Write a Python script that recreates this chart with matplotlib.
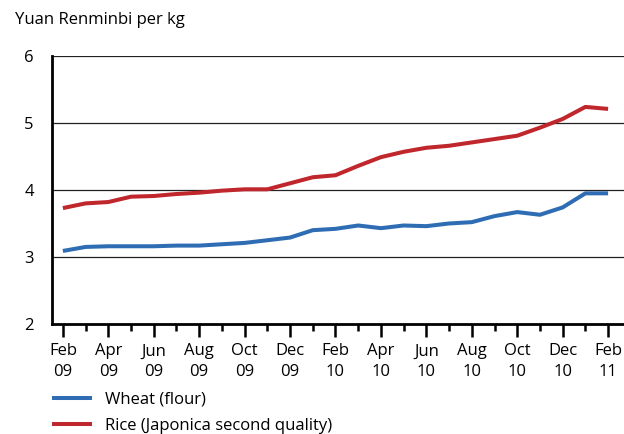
import numpy as np
import matplotlib
matplotlib.use("Agg")
import matplotlib.pyplot as plt
from matplotlib.ticker import MultipleLocator

plt.rcParams['font.family'] = ['Open Sans', 'DejaVu Sans']

# monthly prices, Feb 2009 .. Feb 2011
wheat = [3.09, 3.15, 3.16, 3.16, 3.16, 3.17, 3.17, 3.19, 3.21, 3.25, 3.29, 3.40,
         3.42, 3.47, 3.43, 3.47, 3.46, 3.50, 3.52, 3.61, 3.67, 3.63, 3.74, 3.95, 3.95]
rice = [3.73, 3.80, 3.82, 3.90, 3.91, 3.94, 3.96, 3.99, 4.01, 4.01, 4.10, 4.19,
        4.22, 4.36, 4.49, 4.57, 4.63, 4.66, 4.71, 4.76, 4.81, 4.93, 5.06, 5.24, 5.21]
tick_labels = ["Feb\n09", "Apr\n09", "Jun\n09", "Aug\n09", "Oct\n09", "Dec\n09",
               "Feb\n10", "Apr\n10", "Jun\n10", "Aug\n10", "Oct\n10", "Dec\n10", "Feb\n11"]
y_ticks = [2, 3, 4, 5, 6]

x = np.arange(len(wheat))

fig = plt.figure(figsize=(6.24, 4.34), dpi=100)
ax = fig.add_axes([0.0833, 0.2535, 0.9167, 0.6175])

for yv in y_ticks[1:]:
    ax.axhline(yv, color='#222222', lw=0.9, zorder=1)

l1, = ax.plot(x, wheat, color='#2e6db4', lw=2.9, zorder=3, solid_capstyle='butt')
l2, = ax.plot(x, rice, color='#c0272d', lw=2.9, zorder=3, solid_capstyle='butt')

ax.set_xlim(-0.48, 24.7)
ax.set_ylim(2, 6)
ax.set_xticks(np.arange(0, 25, 2))
ax.set_xticklabels(tick_labels, fontsize=12, linespacing=1.4)
ax.xaxis.set_minor_locator(MultipleLocator(1))
ax.set_yticks(y_ticks)
ax.set_yticklabels([str(v) for v in y_ticks], fontsize=12)

ax.tick_params(axis='x', which='major', direction='out', length=9.5, width=1.8, pad=4.5)
ax.tick_params(axis='x', which='minor', direction='out', length=5, width=1.8)
ax.tick_params(axis='y', length=0, pad=13)

for s in ['top', 'right']:
    ax.spines[s].set_visible(False)
ax.spines['left'].set_linewidth(2)
ax.spines['bottom'].set_linewidth(2)

fig.text(0.024, 0.953, "Yuan Renminbi per kg", fontsize=12, va='center', ha='left')

fig.legend([l1, l2], ["Wheat (flour)", "Rice (Japonica second quality)"],
           loc='upper left', bbox_to_anchor=(0.0726, 0.113), frameon=False,
           fontsize=12, handlelength=2.4, handletextpad=0.8, labelspacing=0.62,
           borderaxespad=0)

fig.savefig("out.png", dpi=100)
